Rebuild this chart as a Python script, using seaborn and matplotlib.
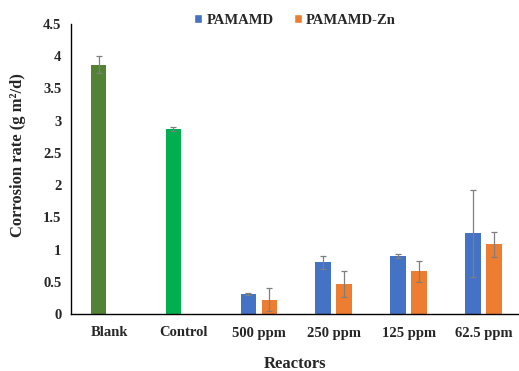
import numpy as np
import pandas as pd
import matplotlib
matplotlib.use("Agg")
import matplotlib.pyplot as plt
import seaborn as sns
from matplotlib.ticker import FuncFormatter, MultipleLocator

categories = ["Blank", "Control", "500 ppm", "250 ppm", "125 ppm", "62.5 ppm"]
pamamd = [3.87, 2.87, 0.31, 0.80, 0.90, 1.25]
pamamd_err = [0.13, 0.03, 0.01, 0.10, 0.03, 0.68]
pamamd_zn = [np.nan, np.nan, 0.22, 0.46, 0.66, 1.08]
pamamd_zn_err = [np.nan, np.nan, 0.18, 0.20, 0.17, 0.19]
series = ["PAMAMD", "PAMAMD-Zn"]
colors = {"PAMAMD": "#4472C4", "PAMAMD-Zn": "#ED7D31"}
special_colors = {"Blank": "#548235", "Control": "#00B050"}

rows = []
for c, v, e in zip(categories, pamamd, pamamd_err):
    rows.append({"Reactor": c, "Series": "PAMAMD", "value": v, "err": e})
for c, v, e in zip(categories, pamamd_zn, pamamd_zn_err):
    rows.append({"Reactor": c, "Series": "PAMAMD-Zn", "value": v, "err": e})
df = pd.DataFrame(rows)

sns.set_theme(style="white")
plt.rcParams["font.family"] = ["Liberation Serif", "DejaVu Serif"]
plt.rcParams["font.weight"] = "bold"

fig = plt.figure(figsize=(5.19, 3.71), dpi=100)
ax = fig.add_axes([71 / 519, 1 - 314 / 371, (519 - 71) / 519, (314 - 24) / 371])

sns.barplot(data=df, x="Reactor", y="value", hue="Series", order=categories,
            hue_order=series, palette=colors, errorbar=None, width=0.56, gap=0.25,
            saturation=1, ax=ax, legend=True)

# error bars and special colours
for container, s in zip(ax.containers, series):
    sub = df[df["Series"] == s].set_index("Reactor")
    for bar in container:
        h = bar.get_height()
        if np.isnan(h):
            continue
        cx = bar.get_x() + bar.get_width() / 2
        idx = int(round(cx))
        cat = categories[idx]
        if s == "PAMAMD" and cat in special_colors:
            bar.set_facecolor(special_colors[cat])
        bar.set_edgecolor("none")
        err = sub.loc[cat, "err"]
        ax.errorbar(cx, h, yerr=err, fmt="none", ecolor="#7f7f7f",
                    elinewidth=0.9, capsize=2, capthick=0.9)

ax.set_xlim(-0.507, 5.47)
ax.set_ylim(0, 4.5)
ax.yaxis.set_major_locator(MultipleLocator(0.5))
ax.yaxis.set_major_formatter(FuncFormatter(lambda v, p: f"{v:g}"))

for sp in ["top", "right"]:
    ax.spines[sp].set_visible(False)
for sp in ["left", "bottom"]:
    ax.spines[sp].set_color("black")
    ax.spines[sp].set_linewidth(1.0)

ax.tick_params(axis="both", which="major", direction="out", length=3, width=1,
               color="black", labelsize=10.5, pad=4)
ax.tick_params(axis="x", pad=6)
for lab in ax.get_xticklabels() + ax.get_yticklabels():
    lab.set_fontweight("bold")

ax.set_xlabel("Reactors", fontsize=12, fontweight="bold", labelpad=12)
ax.set_ylabel("Corrosion rate (g m²/d)", fontsize=12, fontweight="bold")
ax.yaxis.set_label_coords(-0.10, 0.548)

leg = ax.legend(loc="upper center", bbox_to_anchor=(0.5, 1.08), ncol=2, frameon=False,
                handlelength=0.55, handleheight=0.55, handletextpad=0.3, columnspacing=1.4,
                prop={"weight": "bold", "size": 10.5, "family": "Liberation Serif"})

fig.savefig("out.png", dpi=100)
